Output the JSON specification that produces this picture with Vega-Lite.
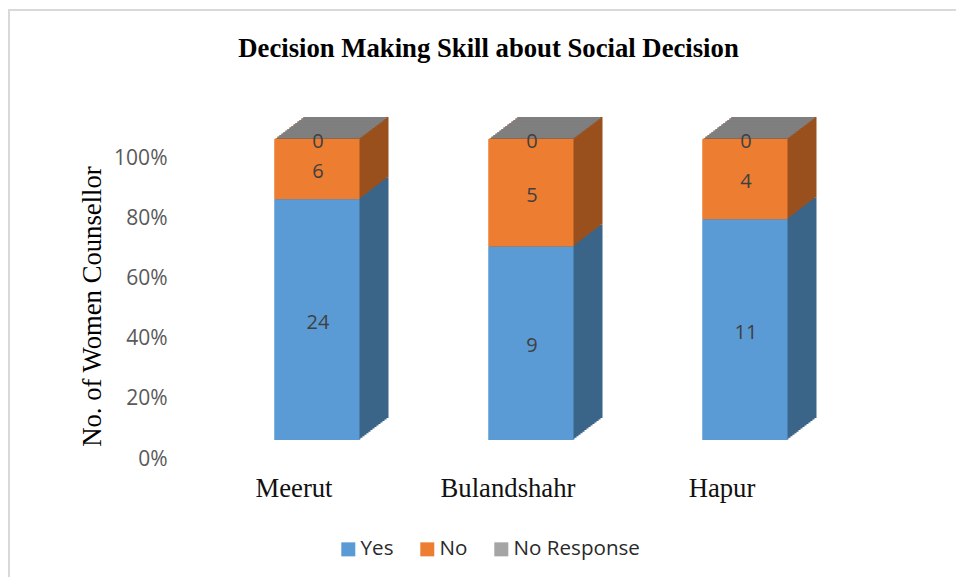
{"$schema":"https://vega.github.io/schema/vega-lite/v6.json","width":950,"height":569,"autosize":{"type":"none"},"padding":{"left":9,"top":10,"right":0,"bottom":0},"background":"white","view":{"stroke":"#d9d9d9","strokeWidth":2,"fill":"white"},"title":{"text":"Decision Making Skill about Social Decision","font":"Liberation Serif","fontSize":26.7,"fontWeight":"bold","color":"#000000","anchor":"middle","frame":"group","dx":4.5,"offset":-53},"data":{"values":[{"city":"Meerut","response":"Yes","count":24,"rank":1},{"city":"Meerut","response":"No","count":6,"rank":2},{"city":"Meerut","response":"No Response","count":0,"rank":3},{"city":"Bulandshahr","response":"Yes","count":9,"rank":1},{"city":"Bulandshahr","response":"No","count":5,"rank":2},{"city":"Bulandshahr","response":"No Response","count":0,"rank":3},{"city":"Hapur","response":"Yes","count":11,"rank":1},{"city":"Hapur","response":"No","count":4,"rank":2},{"city":"Hapur","response":"No Response","count":0,"rank":3}]},"transform":[{"stack":"count","groupby":["city"],"sort":[{"field":"rank","order":"ascending"}],"offset":"normalize","as":["y0","y1"]},{"calculate":"(datum.y0+datum.y1)/2","as":"mid"}],"encoding":{"x":{"field":"city","type":"nominal","sort":["Meerut","Bulandshahr","Hapur"],"scale":{"type":"band","range":[201,843],"paddingInner":0,"paddingOuter":0},"axis":{"title":null,"domain":false,"ticks":false,"labelAngle":0,"labelFont":"Liberation Serif","labelFontSize":26.7,"labelColor":"#111111","labelOffset":-23,"labelBaseline":"middle","labelPadding":0,"offset":-91}}},"layer":[{"mark":{"type":"bar","width":85},"encoding":{"y":{"field":"y1","type":"quantitative","scale":{"domain":[-0.4618,1.4286],"nice":false,"zero":false},"axis":{"title":"No. of Women Counsellor","titleFont":"Liberation Serif","titleFontSize":26.7,"titleFontWeight":"normal","titleColor":"#000000","titleX":-80,"titleY":296,"titleAngle":-90,"titleAlign":"center","titleBaseline":"middle","domain":false,"ticks":false,"grid":false,"values":[0,0.2,0.4,0.6,0.8,1],"format":".0%","labelFont":"Open Sans","labelFontSize":21,"labelColor":"#595959","labelOffset":19,"labelPadding":5,"offset":-163}},"y2":{"field":"y0"},"fill":{"field":"response","type":"nominal","sort":["Yes","No","No Response"],"scale":{"domain":["Yes","No","No Response"],"range":["#5b9bd5","#ed7d31","#a5a5a5"]},"legend":{"title":null,"orient":"none","legendX":329,"legendY":529,"direction":"horizontal","columns":3,"symbolType":"square","symbolSize":196,"symbolOpacity":1,"labelFont":"Open Sans","labelFontSize":20.6,"labelColor":"#2a2a2a","columnPadding":23,"labelOffset":2}}}},
{"transform":[{"filter":"datum.response!='No Response'"}],"mark":{"type":"bar","width":85,"xOffset":29,"yOffset":-22,"y2Offset":-22},"encoding":{"y":{"field":"y1","type":"quantitative"},"y2":{"field":"y0"},"color":{"field":"response","type":"nominal","legend":null,"scale":{"domain":["Yes","No","No Response"],"range":["#3a6488","#9a501c","#7f7f7f"]}}}},
{"transform":[{"filter":"datum.response!='No Response'"}],"mark":{"type":"bar","width":85,"xOffset":27,"yOffset":-20.5,"y2Offset":-20.5},"encoding":{"y":{"field":"y1","type":"quantitative"},"y2":{"field":"y0"},"color":{"field":"response","type":"nominal","legend":null}}},
{"transform":[{"filter":"datum.response!='No Response'"}],"mark":{"type":"bar","width":85,"xOffset":25,"yOffset":-19,"y2Offset":-19},"encoding":{"y":{"field":"y1","type":"quantitative"},"y2":{"field":"y0"},"color":{"field":"response","type":"nominal","legend":null}}},
{"transform":[{"filter":"datum.response!='No Response'"}],"mark":{"type":"bar","width":85,"xOffset":23,"yOffset":-17.4,"y2Offset":-17.4},"encoding":{"y":{"field":"y1","type":"quantitative"},"y2":{"field":"y0"},"color":{"field":"response","type":"nominal","legend":null}}},
{"transform":[{"filter":"datum.response!='No Response'"}],"mark":{"type":"bar","width":85,"xOffset":21,"yOffset":-15.9,"y2Offset":-15.9},"encoding":{"y":{"field":"y1","type":"quantitative"},"y2":{"field":"y0"},"color":{"field":"response","type":"nominal","legend":null}}},
{"transform":[{"filter":"datum.response!='No Response'"}],"mark":{"type":"bar","width":85,"xOffset":19,"yOffset":-14.4,"y2Offset":-14.4},"encoding":{"y":{"field":"y1","type":"quantitative"},"y2":{"field":"y0"},"color":{"field":"response","type":"nominal","legend":null}}},
{"transform":[{"filter":"datum.response!='No Response'"}],"mark":{"type":"bar","width":85,"xOffset":17,"yOffset":-12.9,"y2Offset":-12.9},"encoding":{"y":{"field":"y1","type":"quantitative"},"y2":{"field":"y0"},"color":{"field":"response","type":"nominal","legend":null}}},
{"transform":[{"filter":"datum.response!='No Response'"}],"mark":{"type":"bar","width":85,"xOffset":15,"yOffset":-11.4,"y2Offset":-11.4},"encoding":{"y":{"field":"y1","type":"quantitative"},"y2":{"field":"y0"},"color":{"field":"response","type":"nominal","legend":null}}},
{"transform":[{"filter":"datum.response!='No Response'"}],"mark":{"type":"bar","width":85,"xOffset":13,"yOffset":-9.9,"y2Offset":-9.9},"encoding":{"y":{"field":"y1","type":"quantitative"},"y2":{"field":"y0"},"color":{"field":"response","type":"nominal","legend":null}}},
{"transform":[{"filter":"datum.response!='No Response'"}],"mark":{"type":"bar","width":85,"xOffset":11,"yOffset":-8.3,"y2Offset":-8.3},"encoding":{"y":{"field":"y1","type":"quantitative"},"y2":{"field":"y0"},"color":{"field":"response","type":"nominal","legend":null}}},
{"transform":[{"filter":"datum.response!='No Response'"}],"mark":{"type":"bar","width":85,"xOffset":9,"yOffset":-6.8,"y2Offset":-6.8},"encoding":{"y":{"field":"y1","type":"quantitative"},"y2":{"field":"y0"},"color":{"field":"response","type":"nominal","legend":null}}},
{"transform":[{"filter":"datum.response!='No Response'"}],"mark":{"type":"bar","width":85,"xOffset":7,"yOffset":-5.3,"y2Offset":-5.3},"encoding":{"y":{"field":"y1","type":"quantitative"},"y2":{"field":"y0"},"color":{"field":"response","type":"nominal","legend":null}}},
{"transform":[{"filter":"datum.response!='No Response'"}],"mark":{"type":"bar","width":85,"xOffset":5,"yOffset":-3.8,"y2Offset":-3.8},"encoding":{"y":{"field":"y1","type":"quantitative"},"y2":{"field":"y0"},"color":{"field":"response","type":"nominal","legend":null}}},
{"transform":[{"filter":"datum.response!='No Response'"}],"mark":{"type":"bar","width":85,"xOffset":3,"yOffset":-2.3,"y2Offset":-2.3},"encoding":{"y":{"field":"y1","type":"quantitative"},"y2":{"field":"y0"},"color":{"field":"response","type":"nominal","legend":null}}},
{"transform":[{"filter":"datum.response!='No Response'"}],"mark":{"type":"bar","width":85,"xOffset":1,"yOffset":-0.8,"y2Offset":-0.8},"encoding":{"y":{"field":"y1","type":"quantitative"},"y2":{"field":"y0"},"color":{"field":"response","type":"nominal","legend":null}}},
{"transform":[{"filter":"datum.response=='No Response'"}],"mark":{"type":"bar","width":83,"fill":"#7f7f7f","stroke":"#7f7f7f","strokeWidth":2,"xOffset":28,"yOffset":-21,"y2Offset":-21},"encoding":{"y":{"field":"y1","type":"quantitative"},"y2":{"field":"y0"}}},
{"transform":[{"filter":"datum.response=='No Response'"}],"mark":{"type":"bar","width":83,"fill":"#7f7f7f","stroke":"#7f7f7f","strokeWidth":2,"xOffset":26,"yOffset":-19.5,"y2Offset":-19.5},"encoding":{"y":{"field":"y1","type":"quantitative"},"y2":{"field":"y0"}}},
{"transform":[{"filter":"datum.response=='No Response'"}],"mark":{"type":"bar","width":83,"fill":"#7f7f7f","stroke":"#7f7f7f","strokeWidth":2,"xOffset":24,"yOffset":-18,"y2Offset":-18},"encoding":{"y":{"field":"y1","type":"quantitative"},"y2":{"field":"y0"}}},
{"transform":[{"filter":"datum.response=='No Response'"}],"mark":{"type":"bar","width":83,"fill":"#7f7f7f","stroke":"#7f7f7f","strokeWidth":2,"xOffset":22,"yOffset":-16.5,"y2Offset":-16.5},"encoding":{"y":{"field":"y1","type":"quantitative"},"y2":{"field":"y0"}}},
{"transform":[{"filter":"datum.response=='No Response'"}],"mark":{"type":"bar","width":83,"fill":"#7f7f7f","stroke":"#7f7f7f","strokeWidth":2,"xOffset":20,"yOffset":-15,"y2Offset":-15},"encoding":{"y":{"field":"y1","type":"quantitative"},"y2":{"field":"y0"}}},
{"transform":[{"filter":"datum.response=='No Response'"}],"mark":{"type":"bar","width":83,"fill":"#7f7f7f","stroke":"#7f7f7f","strokeWidth":2,"xOffset":18,"yOffset":-13.5,"y2Offset":-13.5},"encoding":{"y":{"field":"y1","type":"quantitative"},"y2":{"field":"y0"}}},
{"transform":[{"filter":"datum.response=='No Response'"}],"mark":{"type":"bar","width":83,"fill":"#7f7f7f","stroke":"#7f7f7f","strokeWidth":2,"xOffset":16,"yOffset":-12,"y2Offset":-12},"encoding":{"y":{"field":"y1","type":"quantitative"},"y2":{"field":"y0"}}},
{"transform":[{"filter":"datum.response=='No Response'"}],"mark":{"type":"bar","width":83,"fill":"#7f7f7f","stroke":"#7f7f7f","strokeWidth":2,"xOffset":14,"yOffset":-10.6,"y2Offset":-10.6},"encoding":{"y":{"field":"y1","type":"quantitative"},"y2":{"field":"y0"}}},
{"transform":[{"filter":"datum.response=='No Response'"}],"mark":{"type":"bar","width":83,"fill":"#7f7f7f","stroke":"#7f7f7f","strokeWidth":2,"xOffset":12,"yOffset":-9.1,"y2Offset":-9.1},"encoding":{"y":{"field":"y1","type":"quantitative"},"y2":{"field":"y0"}}},
{"transform":[{"filter":"datum.response=='No Response'"}],"mark":{"type":"bar","width":83,"fill":"#7f7f7f","stroke":"#7f7f7f","strokeWidth":2,"xOffset":10,"yOffset":-7.6,"y2Offset":-7.6},"encoding":{"y":{"field":"y1","type":"quantitative"},"y2":{"field":"y0"}}},
{"transform":[{"filter":"datum.response=='No Response'"}],"mark":{"type":"bar","width":83,"fill":"#7f7f7f","stroke":"#7f7f7f","strokeWidth":2,"xOffset":8,"yOffset":-6.1,"y2Offset":-6.1},"encoding":{"y":{"field":"y1","type":"quantitative"},"y2":{"field":"y0"}}},
{"transform":[{"filter":"datum.response=='No Response'"}],"mark":{"type":"bar","width":83,"fill":"#7f7f7f","stroke":"#7f7f7f","strokeWidth":2,"xOffset":6,"yOffset":-4.6,"y2Offset":-4.6},"encoding":{"y":{"field":"y1","type":"quantitative"},"y2":{"field":"y0"}}},
{"transform":[{"filter":"datum.response=='No Response'"}],"mark":{"type":"bar","width":83,"fill":"#7f7f7f","stroke":"#7f7f7f","strokeWidth":2,"xOffset":4,"yOffset":-3,"y2Offset":-3},"encoding":{"y":{"field":"y1","type":"quantitative"},"y2":{"field":"y0"}}},
{"transform":[{"filter":"datum.response=='No Response'"}],"mark":{"type":"bar","width":83,"fill":"#7f7f7f","stroke":"#7f7f7f","strokeWidth":2,"xOffset":2,"yOffset":-1.5,"y2Offset":-1.5},"encoding":{"y":{"field":"y1","type":"quantitative"},"y2":{"field":"y0"}}},
{"mark":{"type":"bar","width":85,"fill":"#5b9bd5"},"transform":[{"filter":"datum.response=='Yes'"}],"encoding":{"y":{"field":"y1","type":"quantitative"},"y2":{"field":"y0"}}},
{"mark":{"type":"bar","width":85,"fill":"#ed7d31"},"transform":[{"filter":"datum.response=='No'"}],"encoding":{"y":{"field":"y1","type":"quantitative"},"y2":{"field":"y0"}}},
{"mark":{"type":"text","font":"Open Sans","fontSize":20,"color":"#404040","dy":3,"dx":1},"encoding":{"y":{"field":"mid","type":"quantitative"},"text":{"field":"count","type":"quantitative"}}}]}
